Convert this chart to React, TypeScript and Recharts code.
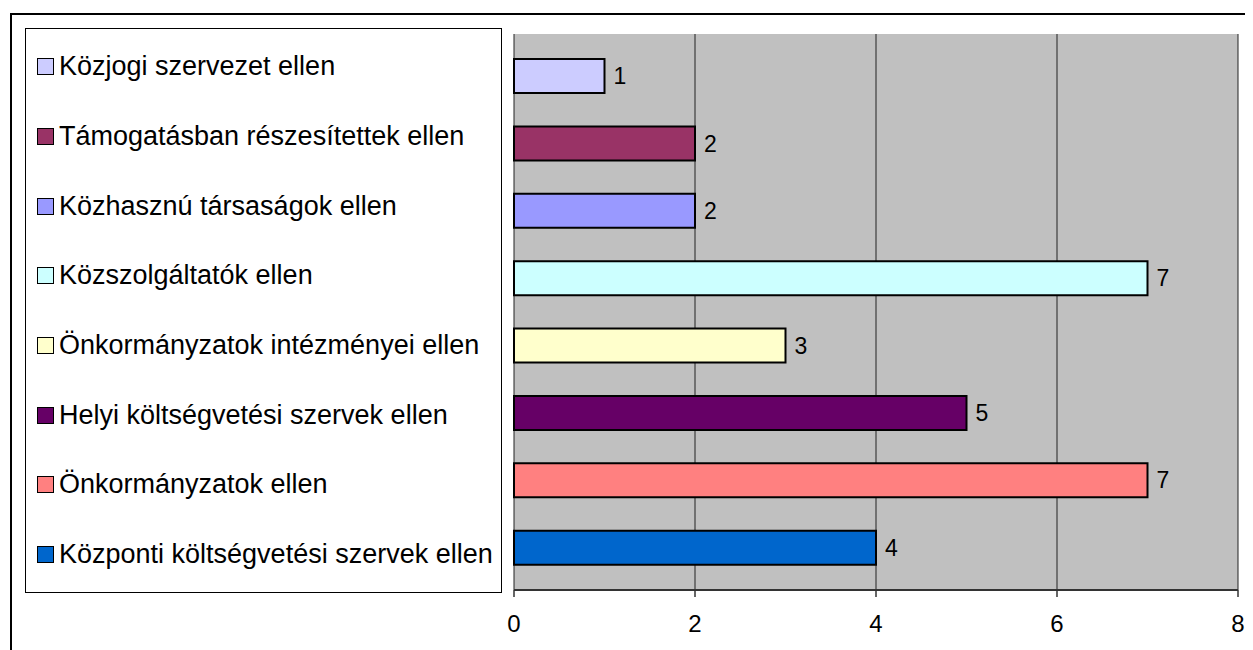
import { BarChart, Bar, XAxis, YAxis, CartesianGrid, Cell, LabelList, Legend } from 'recharts';

const categories = [
  'Közjogi szervezet ellen',
  'Támogatásban részesítettek ellen',
  'Közhasznú társaságok ellen',
  'Közszolgáltatók ellen',
  'Önkormányzatok intézményei ellen',
  'Helyi költségvetési szervek ellen',
  'Önkormányzatok ellen',
  'Központi költségvetési szervek ellen',
];
const values = [1, 2, 2, 7, 3, 5, 7, 4];
const colors = ['#CCCCFF', '#993366', '#9999FF', '#CCFFFF', '#FFFFCC', '#660066', '#FF8080', '#0066CC'];
const xTicks = [0, 2, 4, 6, 8];

const data = categories.map((name, i) => ({ name, value: values[i] }));

const FONT = '"Liberation Sans", Arial, sans-serif';

function LegendBox() {
  return (
    <div style={{ paddingTop: 3, fontFamily: FONT }}>
      {categories.map((c, i) => (
        <div key={c} style={{ height: 69.7, display: 'flex', alignItems: 'center', paddingLeft: 11 }}>
          <span style={{ display: 'inline-block', width: 15, height: 15, border: '1.5px solid #000', background: colors[i], marginRight: 5 }} />
          <span style={{ fontSize: 27, color: '#000', whiteSpace: 'nowrap' }}>{c}</span>
        </div>
      ))}
    </div>
  );
}

export default function App() {
  return (
    <div style={{ position: 'relative', width: 1245, height: 642, overflow: 'hidden', fontFamily: FONT }}>
      <div style={{ position: 'absolute', left: 2, top: 5, width: 1400, height: 800, border: '2px solid #000' }} />
      <div style={{ position: 'absolute', left: 0, top: 0 }}>
        <BarChart width={1245} height={642} data={data} layout="vertical" margin={{ top: 26, right: 15, left: 506, bottom: 10 }}>
          <CartesianGrid horizontal={false} vertical fill="#C0C0C0" fillOpacity={1} stroke="#222" strokeWidth={1} />
          <XAxis
            type="number"
            domain={[0, 8]}
            ticks={xTicks}
            height={50}
            tickSize={7}
            tickMargin={18}
            tick={{ fill: '#000', fontSize: 24, fontFamily: FONT }}
            tickLine={{ stroke: '#333', strokeWidth: 1.5 }}
            axisLine={{ stroke: '#333', strokeWidth: 2 }}
          />
          <XAxis
            xAxisId="top"
            orientation="top"
            type="number"
            domain={[0, 8]}
            height={0}
            tick={false}
            tickLine={false}
            axisLine={{ stroke: '#808080', strokeWidth: 2 }}
          />
          <YAxis
            type="category"
            dataKey="name"
            width={0}
            tick={false}
            tickLine={false}
            padding={{ top: 8, bottom: 9 }}
            axisLine={{ stroke: '#808080', strokeWidth: 2 }}
          />
          <YAxis
            yAxisId="right"
            orientation="right"
            type="category"
            dataKey="name"
            width={0}
            tick={false}
            tickLine={false}
            axisLine={{ stroke: '#808080', strokeWidth: 2 }}
          />
          <Bar dataKey="value" barSize={34} stroke="#000" strokeWidth={2} isAnimationActive={false}>
            {data.map((_d, i) => (
              <Cell key={i} fill={colors[i]} />
            ))}
            <LabelList dataKey="value" position="right" offset={9} fill="#000" fontSize={23} fontFamily={FONT} />
          </Bar>
          <Legend
            layout="horizontal"
            align="center"
            verticalAlign="middle"
            content={() => <LegendBox />}
            wrapperStyle={{
              left: 17,
              top: 20,
              width: 477,
              height: 565,
              border: '1px solid #000',
              boxSizing: 'border-box',
              background: '#fff',
            }}
          />
        </BarChart>
      </div>
    </div>
  );
}
